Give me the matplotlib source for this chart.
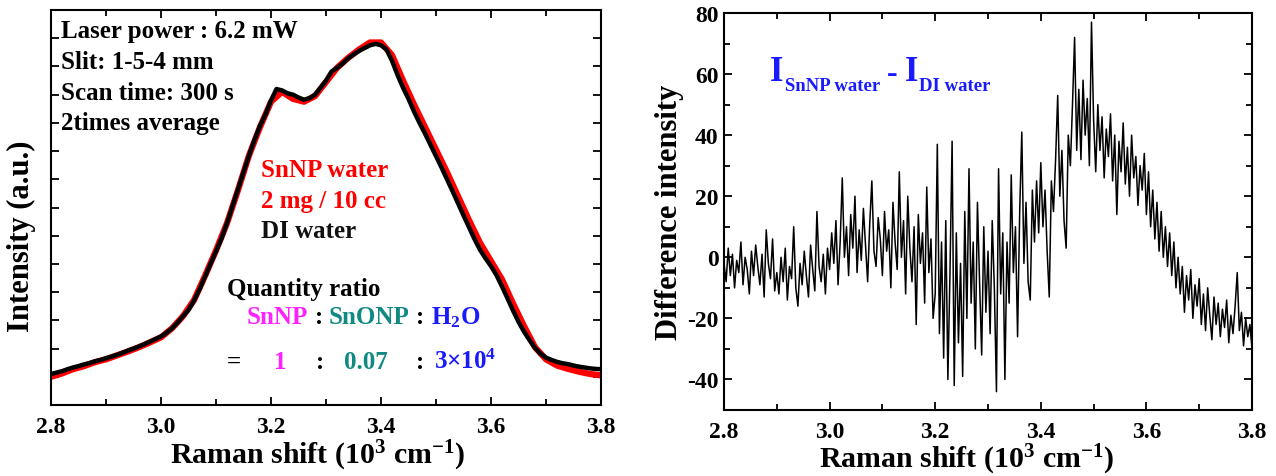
import matplotlib
matplotlib.use("Agg")
import matplotlib.pyplot as plt
import numpy as np
from matplotlib.ticker import MultipleLocator

plt.rcParams['font.family'] = ['Liberation Serif', 'DejaVu Serif']
plt.rcParams['font.weight'] = 'bold'
plt.rcParams['axes.labelweight'] = 'bold'
plt.rcParams['axes.unicode_minus'] = False
plt.rcParams['mathtext.fontset'] = 'custom'
plt.rcParams['mathtext.rm'] = 'Liberation Serif:bold'
plt.rcParams['mathtext.it'] = 'Liberation Serif:bold'
plt.rcParams['mathtext.bf'] = 'Liberation Serif:bold'

# left panel: raman spectra (arb. units)
shift_di = np.round(np.arange(2.80, 3.8001, 0.01), 3)
di_water = [1.10, 1.15, 1.20, 1.27, 1.33, 1.38, 1.44, 1.49, 1.55, 1.60,
            1.66, 1.72, 1.78, 1.85, 1.93, 2.00, 2.08, 2.16, 2.25, 2.34,
            2.43, 2.56, 2.72, 2.92, 3.15, 3.37, 3.70, 4.10, 4.55, 5.00,
            5.45, 5.90, 6.45, 7.05, 7.65, 8.25, 8.85, 9.40, 9.90, 10.30,
            10.80, 11.20, 11.15, 11.05, 11.00, 10.90, 10.82, 10.88, 11.00, 11.25,
            11.50, 11.82, 11.95, 12.10, 12.28, 12.42, 12.55, 12.65, 12.75, 12.80,
            12.75, 12.60, 12.20, 11.70, 11.25, 10.85, 10.40, 10.00, 9.62, 9.22,
            8.82, 8.42, 8.00, 7.58, 7.15, 6.72, 6.30, 5.88, 5.50, 5.20,
            4.92, 4.60, 4.20, 3.78, 3.35, 2.95, 2.60, 2.30, 2.02, 1.82,
            1.68, 1.60, 1.53, 1.48, 1.45, 1.40, 1.36, 1.33, 1.30, 1.28,
            1.27]

shift_snnp = np.round(np.arange(2.80, 3.8001, 0.02), 3)
snnp_water = [1.00, 1.12, 1.27, 1.38, 1.52, 1.62, 1.76, 1.90, 2.05, 2.22,
              2.40, 2.72, 3.15, 3.72, 4.58, 5.48, 6.45, 7.62, 8.85, 9.85,
              10.75, 11.10, 10.85, 10.75, 10.95, 11.45, 11.95, 12.30, 12.60, 12.85,
              12.85, 12.40, 11.50, 10.65, 9.85, 9.05, 8.25, 7.40, 6.55, 5.75,
              5.10, 4.45, 3.60, 2.80, 2.05, 1.62, 1.40, 1.28, 1.18, 1.10,
              1.05]

# right panel: difference I(SnNP water) - I(DI water)
shift_diff = np.round(np.arange(2.800, 3.8001, 0.004), 3)
diff = [-2, -8, 3, -6, 1, -10, -1, -5, 5, -9, 0, -4, -12, 2, -6, 4, -3, -9, 1, -13, 9, -2, -7, 6, -11,
        -5, -12, 0, -8, 3, -14, -3, -7, 10, -10, -16, -2, -9, 2, -6, -13, 4, -4, -11, 15, -3, -8, 1, -12, 3,
        -4, 8, -2, 12, -9, 5, 26, 0, 10, -6, 14, 3, 20, -5, 9, -1, 16, 4, -8, 11, 25, 2, -3, 13, 6,
        -6, 15, 2, 9, -10, 18, 5, -4, 28, 0, 12, -12, 20, 3, -8, 10, -22, 14, -2, 8, -15, 23, -5, 6, -20,
        -12, 37, -25, 5, -33, 12, -40, -5, 38, -42, 8, -28, -2, -39, 15, -20, 29, -15, 5, -30, 18, -8, -32, 10, -18,
        2, -25, 12, -10, -44, 29, -12, 8, -40, 5, -15, 27, -5, 10, -26, 15, 41, -2, 18, -8, -14, 22, 5, 25, 8,
        31, 10, 22, 2, -13, 25, 15, 32, 53, 20, 35, 12, 3, 40, 30, 50, 72, 35, 55, 32, 58, 40, 52, 30, 77,
        45, 28, 50, 35, 46, 26, 42, 33, 47, 25, 40, 14, 38, 28, 44, 24, 36, 20, 40, 26, 33, 17, 30, 22, 34,
        14, 28, 10, 22, 6, 18, 2, 15, 0, 10, -3, 8, -6, 5, -10, 0, -12, -3, -18, -6, -14, -4, -20, -9, -16,
        -7, -22, -12, -24, -10, -19, -27, -13, -22, -15, -26, -17, -23, -14, -28, -19, -25, -16, -5, -24,
        -18, -29, -20, -26, -22, -30]

fig = plt.figure(figsize=(12.76, 4.77), dpi=100)
ax1 = fig.add_axes([0.0400, 0.1488, 0.4310, 0.8281])
ax2 = fig.add_axes([0.5674, 0.1384, 0.4138, 0.8323])

ax1.plot(shift_snnp, snnp_water, color='red', lw=4.5, solid_capstyle='butt')
ax1.plot(shift_di, di_water, color='black', lw=3.2)
ax1.set_xlim(2.8, 3.8)
ax1.set_ylim(0, 14)
ax1.yaxis.set_major_locator(MultipleLocator(1))
ax1.set_yticklabels([])
ax1.set_ylabel('Intensity (a.u.)', fontsize=22)
ax1.yaxis.set_label_coords(-0.027, 0.43)

ax2.plot(shift_diff, diff, color='black', lw=1.1)
ax2.set_xlim(2.8, 3.8)
ax2.set_ylim(-50, 80)
ax2.yaxis.set_major_locator(MultipleLocator(20))
ax2.yaxis.set_minor_locator(MultipleLocator(10))
ax2.set_ylabel('Difference intensity', fontsize=22, labelpad=2)

for ax in (ax1, ax2):
    ax.xaxis.set_major_locator(MultipleLocator(0.2))
    ax.xaxis.set_minor_locator(MultipleLocator(0.1))
    ax.xaxis.set_major_formatter(matplotlib.ticker.FormatStrFormatter('%.1f'))
    ax.tick_params(which='both', direction='in', top=True, right=True, width=1.3, labelsize=17)
    ax.tick_params(which='major', length=6, pad=8)
    ax.tick_params(which='minor', length=4)
    for lab in ax.get_xticklabels() + ax.get_yticklabels():
        lab.set_fontweight('bold')
    for s in ax.spines.values():
        s.set_linewidth(1.5)
    ax.set_xlabel(r'Raman shift (10$^{\mathbf{3}}$ cm$^{\mathbf{-1}}$)', fontsize=21.5)
ax2.tick_params(axis='y', which='major', pad=4)
ax1.xaxis.set_label_coords(0.484, -0.084)
ax2.xaxis.set_label_coords(0.46, -0.08)

# annotations, left panel
tx = dict(transform=ax1.transAxes, va='center', ha='left', fontsize=18)
ax1.text(0.018, 0.947, 'Laser power : 6.2 mW', **tx)
ax1.text(0.018, 0.869, 'Slit: 1-5-4 mm', **tx)
ax1.text(0.018, 0.791, 'Scan time: 300 s', **tx)
ax1.text(0.018, 0.714, '2times average', **tx)
ax1.text(0.382, 0.595, 'SnNP water', color='red', **tx)
ax1.text(0.382, 0.518, '2 mg / 10 cc', color='red', **tx)
ax1.text(0.382, 0.442, 'DI water', color='#111111', **tx)
ax1.text(0.320, 0.296, 'Quantity ratio', **tx)

magenta, teal, blue = '#ff22ff', '#0e8a82', '#1a1aff'
ax1.text(0.355, 0.224, 'SnNP', color=magenta, **tx)
ax1.text(0.480, 0.224, ':', **tx)
ax1.text(0.505, 0.224, 'SnONP', color=teal, **tx)
ax1.text(0.664, 0.224, ':', **tx)
ax1.text(0.691, 0.224, r'H$_{\mathbf{2}}$O', color=blue, **tx)
ax1.text(0.320, 0.111, '=', **tx)
ax1.text(0.405, 0.111, '1', color=magenta, **tx)
ax1.text(0.482, 0.111, ':', **tx)
ax1.text(0.533, 0.111, '0.07', color=teal, **tx)
ax1.text(0.664, 0.111, ':', **tx)
ax1.text(0.696, 0.111, r'3$\mathbf{\times}$10$^{\mathbf{4}}$', color=blue, **tx)

# annotation, right panel
t1 = ax2.text(0.087, 0.831, 'I', color=blue, fontsize=25, transform=ax2.transAxes,
              va='baseline', ha='left')
t2 = ax2.annotate('SnNP water', xy=(1, 0), xycoords=t1, xytext=(1, -4),
                  textcoords='offset points', color=blue, fontsize=13.5, va='bottom', ha='left')
t3 = ax2.annotate('-', xy=(1, 0), xycoords=t2, xytext=(5, 4),
                  textcoords='offset points', color=blue, fontsize=23, va='bottom', ha='left')
t4 = ax2.annotate('I', xy=(1, 0), xycoords=t3, xytext=(5, 0),
                  textcoords='offset points', color=blue, fontsize=25, va='bottom', ha='left')
ax2.annotate('DI water', xy=(1, 0), xycoords=t4, xytext=(1, -4),
             textcoords='offset points', color=blue, fontsize=13.5, va='bottom', ha='left')

fig.savefig('out.png', dpi=100)
